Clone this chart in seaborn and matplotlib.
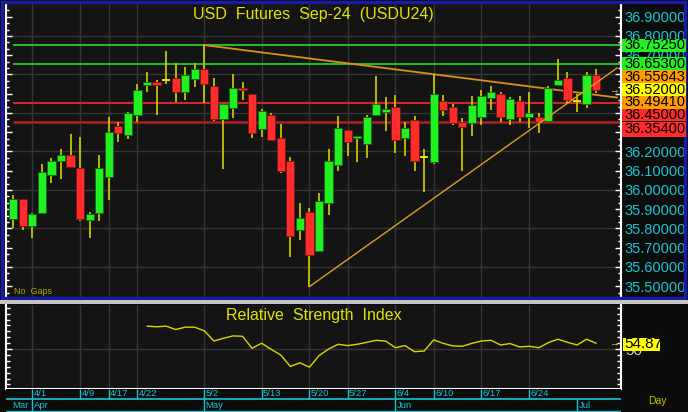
import numpy as np
import pandas as pd
import matplotlib
matplotlib.use("Agg")
import matplotlib.pyplot as plt
from matplotlib.patches import Rectangle
from matplotlib.ticker import MultipleLocator, FixedLocator, FuncFormatter
import seaborn as sns

# --- data (daily bars, USD futures Sep-24) ---
dates = ['3/28', '3/29', '4/1', '4/2', '4/3', '4/4', '4/5', '4/9', '4/10', '4/11',
         '4/17', '4/18', '4/19', '4/22', '4/23', '4/24', '4/25', '4/26', '4/29', '4/30',
         '5/2', '5/3', '5/7', '5/8', '5/9', '5/10', '5/13', '5/14', '5/15', '5/16',
         '5/17', '5/20', '5/21', '5/23', '5/24', '5/27', '5/28', '5/29', '5/30', '5/31',
         '6/4', '6/5', '6/6', '6/7', '6/10', '6/11', '6/12', '6/13', '6/14', '6/17',
         '6/18', '6/19', '6/20', '6/21', '6/24', '6/25', '6/26', '6/27', '6/28', '7/1',
         '7/2', '7/3']
opens = [35.851, 35.953, 35.811, 35.882, 36.079, 36.149, 36.182, 36.113, 35.843, 35.882,
         36.069, 36.332, 36.287, 36.388, 36.547, 36.559, 36.571, 36.580, 36.508, 36.578,
         36.629, 36.540, 36.367, 36.428, 36.530, 36.499, 36.318, 36.391, 36.272, 36.152,
         35.792, 35.886, 35.682, 35.931, 36.130, 36.312, 36.270, 36.239, 36.388, 36.407,
         36.431, 36.269, 36.362, 36.171, 36.147, 36.462, 36.431, 36.355, 36.348, 36.378,
         36.476, 36.500, 36.367, 36.461, 36.378, 36.381, 36.360, 36.545, 36.580, 36.461,
         36.447, 36.599]
highs = [35.974, 35.953, 35.880, 36.134, 36.165, 36.213, 36.291, 36.274, 35.887, 36.182,
         36.381, 36.352, 36.405, 36.549, 36.611, 36.573, 36.722, 36.660, 36.639, 36.660,
         36.7525, 36.583, 36.447, 36.601, 36.561, 36.499, 36.421, 36.402, 36.343, 36.173,
         35.934, 35.905, 35.984, 36.213, 36.384, 36.312, 36.282, 36.390, 36.591, 36.483,
         36.492, 36.352, 36.383, 36.211, 36.601, 36.492, 36.445, 36.372, 36.490, 36.519,
         36.540, 36.511, 36.483, 36.490, 36.511, 36.402, 36.542, 36.681, 36.611, 36.500,
         36.611, 36.630]
lows = [35.801, 35.792, 35.752, 35.882, 36.038, 36.057, 36.119, 35.841, 35.752, 35.841,
        35.950, 36.248, 36.267, 36.355, 36.508, 36.388, 36.549, 36.459, 36.466, 36.537,
        36.450, 36.358, 36.109, 36.376, 36.466, 36.269, 36.277, 36.258, 36.090, 35.654,
        35.742, 35.498, 35.682, 35.870, 36.099, 36.178, 36.147, 36.168, 36.388, 36.308,
        36.191, 36.178, 36.100, 35.991, 36.137, 36.386, 36.338, 36.099, 36.279, 36.338,
        36.416, 36.355, 36.338, 36.355, 36.320, 36.298, 36.357, 36.545, 36.450, 36.407,
        36.428, 36.502]
closes = [35.953, 35.813, 35.874, 36.094, 36.152, 36.182, 36.119, 35.851, 35.875, 36.113,
          36.301, 36.298, 36.400, 36.519, 36.559, 36.547, 36.571, 36.508, 36.599, 36.629,
          36.549, 36.369, 36.447, 36.530, 36.518, 36.298, 36.410, 36.258, 36.099, 35.761,
          35.855, 35.664, 35.944, 36.152, 36.322, 36.249, 36.282, 36.381, 36.447, 36.421,
          36.260, 36.321, 36.149, 36.171, 36.500, 36.416, 36.350, 36.329, 36.442, 36.490,
          36.509, 36.378, 36.473, 36.378, 36.400, 36.355, 36.531, 36.571, 36.466, 36.461,
          36.599, 36.520]

# RSI starts on the 15th bar
rsi_start = 14
rsi = [69.4, 68.8, 69.4, 66.5, 68.5, 68.5, 65.4, 56.8, 59.1, 61.1, 60.8, 50.6, 54.9, 49.7,
       44.9, 35.2, 38.3, 34.6, 44.3, 50.0, 54.0, 52.9, 54.0, 55.7, 57.4, 56.6, 51.1, 52.9,
       47.7, 48.3, 57.7, 54.8, 52.6, 52.3, 54.8, 56.8, 57.4, 53.4, 54.6, 51.7, 52.3, 51.1,
       55.4, 58.3, 55.7, 53.4, 58.3, 54.87]

# horizontal levels and trendlines
green_levels = [36.7525, 36.653]
red_levels = [36.45, 36.354]
down_trend_x = [20, 63.2]
down_trend_y = [36.7525, 36.480]
up_trend_x = [31, 63.2]
up_trend_y = [35.498, 36.634]

day_ticks = ['4/1', '4/9', '4/17', '4/22', '5/2', '5/13', '5/20', '5/27', '6/4', '6/10', '6/17', '6/24']
month_ticks = {'Apr': '4/1', 'May': '5/2', 'Jun': '6/4', 'Jul': '7/1'}

price_tags = [('36.75250', '#22ee22'), ('36.65300', '#22ee22'), ('36.55643', '#ff9c00'),
              ('36.52000', '#ffff00'), ('36.49410', '#ff9c00'), ('36.45000', '#ff2a2a'),
              ('36.35400', '#ff2a2a')]
# axis labels that sit fully under the tags are not drawn
hidden_ticks = [36.3, 36.4, 36.5, 36.6]

sns.set_theme(style="dark")
plt.rcParams['font.family'] = ['Liberation Sans', 'DejaVu Sans']

BG = '#141414'
GRID = '#363636'
CYAN = '#18c4d0'
YEL = '#e2e200'
W, H = 688, 412


def fx(px):
    return px / W


def fy(py):
    return 1 - py / H


def price_fmt(v, _):
    if any(abs(v - h) < 1e-6 for h in hidden_ticks):
        return ''
    return f'{v:.5f}'


df = pd.DataFrame({'date': dates, 'open': opens, 'high': highs, 'low': lows, 'close': closes})
df['i'] = np.arange(len(df))
pos = {d: i for i, d in enumerate(dates)}
day_pos = [pos[d] for d in day_ticks]

fig = plt.figure(figsize=(6.88, 4.12), dpi=100, facecolor='#0c0c0c')

xl = (-0.75, 63.6)
ax = fig.add_axes([fx(6), fy(297), fx(621) - fx(6), fy(4) - fy(297)])
ax_r = fig.add_axes([fx(6), fy(389), fx(621) - fx(6), fy(305) - fy(389)])
ax_d = fig.add_axes([fx(6), fy(412), fx(621) - fx(6), fy(389) - fy(412)])

# --- main price panel ---
ax.set_facecolor(BG)
ax.set_xlim(xl)
ax.set_ylim(35.444, 36.966)
for g in np.arange(35.6, 36.9, 0.2):
    ax.axhline(g, color=GRID, lw=1, zorder=0)
for p in day_pos:
    ax.axvline(p, color=GRID, lw=1, zorder=0)

for lv in green_levels:
    ax.hlines(lv, 0, xl[1], color='#22dd22', lw=1.2, zorder=2)
ax.hlines(red_levels[0], 0, xl[1], color='#d02828', lw=1.5, zorder=2)
ax.hlines(red_levels[1], 0, xl[1], color='#b02020', lw=1.8, zorder=2)

sns.lineplot(x=down_trend_x, y=down_trend_y, ax=ax, color='#d8901a', lw=1.3, zorder=2)
sns.lineplot(x=up_trend_x, y=up_trend_y, ax=ax, color='#d8a020', lw=1.0, zorder=6)

up = df[df.close > df.open]
dn = df[df.close < df.open]
dj = df[df.close == df.open]
ax.vlines(df.i, df.low, df.high, color='#c4c400', lw=1.3, zorder=3)
ax.bar(up.i, up.close - up.open, bottom=up.open, width=0.86, color='#22f022',
       edgecolor='#0c6a0c', lw=0.6, zorder=4)
ax.bar(dn.i, dn.open - dn.close, bottom=dn.close, width=0.86, color='#ff2c2c',
       edgecolor='#7a1414', lw=0.6, zorder=4)
ax.hlines(dj.open, dj.i - 0.43, dj.i + 0.43, color='#e8e800', lw=1.4, zorder=4)

ax.yaxis.set_major_locator(MultipleLocator(0.1))
ax.yaxis.set_minor_locator(MultipleLocator(0.1 / 3))
ax.yaxis.set_major_formatter(FuncFormatter(price_fmt))
ax.tick_params(axis='y', which='both', left=True, right=True, labelleft=False, labelright=True,
               direction='in', color='white', labelcolor=CYAN, labelsize=10.5, pad=2.5)
ax.tick_params(axis='y', which='major', length=4, width=1)
ax.tick_params(axis='y', which='minor', length=2.5, width=1)
ax.set_xticks([])
for s in ['left', 'right']:
    ax.spines[s].set_visible(True)
    ax.spines[s].set_color('white')
    ax.spines[s].set_linewidth(1.5)
for s in ['top', 'bottom']:
    ax.spines[s].set_visible(False)
ax.set_xlabel('')
ax.set_ylabel('')
ax.text(0.5, 0.965, 'USD  Futures  Sep-24  (USDU24)', transform=ax.transAxes, ha='center',
        va='center', color=YEL, fontsize=11.5)
ax.text(0.013, 0.004, 'No  Gaps', transform=ax.transAxes, ha='left', va='bottom',
        color='#a8a800', fontsize=6.5)

# --- RSI panel ---
ax_r.set_facecolor(BG)
ax_r.set_xlim(xl)
ax_r.set_ylim(16.1, 87.3)
ax_r.axhline(50, color=GRID, lw=1, zorder=0)
for p in day_pos:
    ax_r.axvline(p, color=GRID, lw=1, zorder=0)
rsi_df = pd.DataFrame({'i': np.arange(rsi_start, rsi_start + len(rsi)), 'rsi': rsi})
sns.lineplot(data=rsi_df, x='i', y='rsi', ax=ax_r, color='#d8d800', lw=1.0)
ax_r.yaxis.set_major_locator(FixedLocator([50]))
ax_r.yaxis.set_minor_locator(MultipleLocator(5))
ax_r.tick_params(axis='y', which='both', left=True, right=True, labelleft=False, labelright=True,
                 direction='in', color='white', labelcolor='#c8c8d8', labelsize=11, pad=3)
ax_r.tick_params(axis='y', which='major', length=4, width=1)
ax_r.tick_params(axis='y', which='minor', length=3, width=1)
ax_r.set_xticks([])
for s in ['left', 'right', 'bottom']:
    ax_r.spines[s].set_visible(True)
    ax_r.spines[s].set_color('white')
    ax_r.spines[s].set_linewidth(1.5)
ax_r.spines['top'].set_visible(False)
ax_r.set_xlabel('')
ax_r.set_ylabel('')
ax_r.text(0.5, 0.88, 'Relative  Strength  Index', transform=ax_r.transAxes, ha='center',
          va='center', color=YEL, fontsize=11.5)

# --- date axis ---
ax_d.set_facecolor('#0c0c0c')
ax_d.set_xlim(xl)
ax_d.set_ylim(0, 1)
ax_d.axhline(0.56, color=CYAN, lw=1.2)
ax_d.axhline(0.03, color=CYAN, lw=1.0)
for d, p in zip(day_ticks, day_pos):
    ax_d.vlines(p, 0.56, 1, color=CYAN, lw=1)
    ax_d.text(p + 0.15, 0.79, d, color=CYAN, fontsize=6.8, ha='left', va='center')
ax_d.text(-0.1, 0.29, 'Mar', color=CYAN, fontsize=6.8, ha='left', va='center')
for m, d in month_ticks.items():
    ax_d.vlines(pos[d], 0, 0.56, color=CYAN, lw=1)
    ax_d.text(pos[d] + 0.15, 0.29, m, color=CYAN, fontsize=6.8, ha='left', va='center')
ax_d.set_xticks([])
ax_d.set_yticks([])
for s in ax_d.spines.values():
    s.set_visible(False)

# --- frames and right-hand tags ---
fig.patches.append(Rectangle((fx(1.5), fy(297.5)), fx(685) - fx(1.5), fy(1.5) - fy(297.5),
                             transform=fig.transFigure, fill=False, edgecolor='#1a1aa8', lw=2.4))
fig.patches.append(Rectangle((0, fy(304)), 1, fy(299.5) - fy(304), transform=fig.transFigure,
                             facecolor='#c4c4c4', edgecolor='none'))

tag_y = [38.5, 57.5, 70.5, 83.5, 96, 109, 122]
tag_h = [13.5, 12.5, 12.5, 12.5, 12.5, 12.5, 14.5]
for (txt, col), ty, th in zip(price_tags, tag_y, tag_h):
    fig.patches.append(Rectangle((fx(622), fy(ty + th)), fx(686) - fx(622), fy(ty) - fy(ty + th),
                                 transform=fig.transFigure, facecolor=col, edgecolor='none'))
    fig.text(fx(624), fy(ty + th / 2), txt, color='black', fontsize=10.5, ha='left', va='center')

fig.patches.append(Rectangle((fx(623), fy(350.5)), fx(660) - fx(623), fy(337.5) - fy(350.5),
                             transform=fig.transFigure, facecolor='#ffff00', edgecolor='none'))
fig.text(fx(624.5), fy(344), f'{rsi[-1]:.2f}', color='black', fontsize=11, ha='left', va='center')

fig.text(fx(609), fy(90), '→', color=YEL, fontsize=7, ha='left', va='center')
fig.text(fx(609), fy(343), '→', color=YEL, fontsize=7, ha='left', va='center')
fig.text(fx(648), fy(401), 'Day', color='#c8c800', fontsize=7.5, ha='left', va='center')

fig.savefig('out.png', dpi=100, facecolor=fig.get_facecolor())
